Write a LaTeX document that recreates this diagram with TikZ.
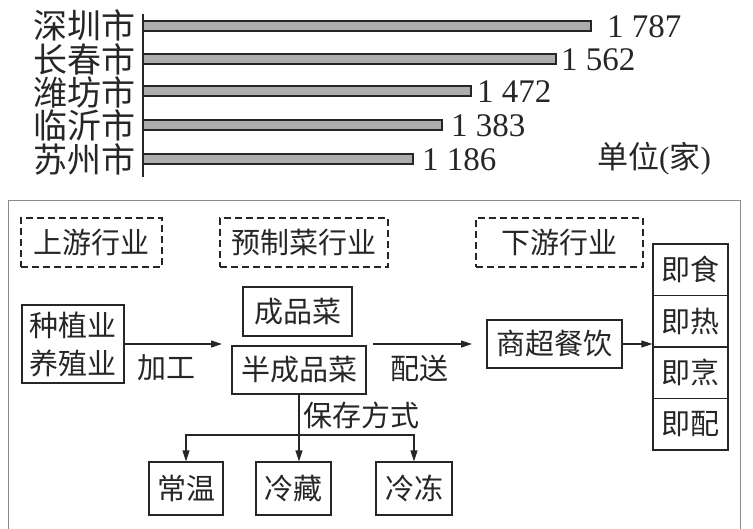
\documentclass[tikz,border=0pt]{standalone}
\usepackage{fontspec}
\setmainfont{Liberation Serif}
\newfontfamily\cjk{Noto Sans CJK SC}
\usetikzlibrary{arrows.meta}
\definecolor{ink}{HTML}{262626}
\definecolor{barfill}{HTML}{ADADAD}
\definecolor{framec}{HTML}{8A8A8A}
\tikzset{
  city/.style={anchor=east, inner sep=0pt, text=ink, font=\cjk\fontsize{34}{34}\selectfont},
  val/.style={anchor=west, inner sep=0pt, text=ink, font=\fontsize{33}{33}\selectfont},
  bar/.style={draw=ink, line width=1.2pt, fill=barfill},
  solidbox/.style={draw=ink, line width=1.2pt, inner sep=0pt, text=ink, font=\cjk\fontsize{29}{38}\selectfont, align=center},
  dashbox/.style={draw=ink, line width=1.2pt, dash pattern=on 7pt off 4pt, inner sep=0pt, text=ink, font=\cjk\fontsize{29}{29}\selectfont},
  lbl/.style={inner sep=0pt, text=ink, font=\cjk\fontsize{29}{29}\selectfont},
  arr/.style={draw=ink, line width=1.2pt, -{Triangle[length=11pt,width=7pt]}},
  plain/.style={draw=ink, line width=1.2pt}
}
\begin{document}
\begin{tikzpicture}[x=1pt,y=-1pt]
\useasboundingbox (0,0) rectangle (753,528);
% ---- bar chart ----
\draw[plain] (143,14) coordinate (axtop) -- (143,177) coordinate (axbot);
\node[city] (c1) at (136,25) {深圳市};
\node[city] (c2) at (136,59) {长春市};
\node[city] (c3) at (136,92) {潍坊市};
\node[city] (c4) at (136,125) {临沂市};
\node[city] (c5) at (136,159) {苏州市};
\draw[bar] (143,21) rectangle (591,31);
\draw[bar] (143,54) rectangle (556,64);
\draw[bar] (143,86) rectangle (471,96);
\draw[bar] (143,120) rectangle (442,130);
\draw[bar] (143,154) rectangle (413,164);
\node[val] (v1) at (607,27) {1 787};
\node[val] (v2) at (561,60) {1 562};
\node[val] (v3) at (477,92) {1 472};
\node[val] (v4) at (451,126) {1 383};
\node[val] (v5) at (422,160) {1 186};
\node[anchor=west, inner sep=0pt, text=ink, font=\fontsize{31}{31}\selectfont] (unit) at (597,159) {{\cjk 单位}({\cjk 家})};
% ---- frame ----
\draw[draw=framec, line width=1pt] (8,540) -- (8,200) -- (740,200) -- (740,540);
% ---- dashed headers ----
\node[dashbox, minimum width=141pt, minimum height=49pt] (up) at (91.5,242.5) {上游行业};
\node[dashbox, minimum width=168pt, minimum height=49pt] (pre) at (304,242.5) {预制菜行业};
\node[dashbox, minimum width=167pt, minimum height=49pt] (down) at (559.5,242.5) {下游行业};
% ---- flow ----
\node[solidbox, minimum width=102pt, minimum height=78pt] (farm) at (73,344) {种植业\\养殖业};
\node[solidbox, minimum width=109pt, minimum height=49pt] (fin) at (297.5,311.5) {成品菜};
\node[solidbox, minimum width=134pt, minimum height=48pt] (semi) at (299,370) {半成品菜};
\node[solidbox, minimum width=135pt, minimum height=48pt] (shop) at (554.5,344) {商超餐饮};
\node[solidbox, minimum width=75pt, minimum height=51.5pt] (r1) at (690.5,269.75) {即食};
\node[solidbox, minimum width=75pt, minimum height=51.5pt] (r2) at (690.5,321.25) {即热};
\node[solidbox, minimum width=75pt, minimum height=51.5pt] (r3) at (690.5,372.75) {即烹};
\node[solidbox, minimum width=75pt, minimum height=51.5pt] (r4) at (690.5,424.25) {即配};
\node[solidbox, minimum width=74pt, minimum height=53pt] (room) at (186,488.5) {常温};
\node[solidbox, minimum width=75pt, minimum height=53pt] (cold) at (293.5,488.5) {冷藏};
\node[solidbox, minimum width=76pt, minimum height=53pt] (frozen) at (414,488.5) {冷冻};
\node[lbl] (jg) at (166,368) {加工};
\node[lbl] (ps) at (419.5,368) {配送};
\node[lbl, anchor=west] (bc) at (303,415) {保存方式};
\coordinate (gapin) at (222,344);
\coordinate (psa) at (373,344);
\coordinate (psb) at (472,344);
\coordinate (hb) at (299,435);
\draw[arr] (farm.east) -- (gapin);
\draw[arr] (psa) -- (psb);
\draw[arr] (shop.east) -- (shop.east -| r2.west);
\draw[arr] (semi.south) -- (semi.south |- cold.north);
\draw[arr] (hb) -| (room.north);
\draw[arr] (hb) -| (frozen.north);
\end{tikzpicture}
\end{document}
